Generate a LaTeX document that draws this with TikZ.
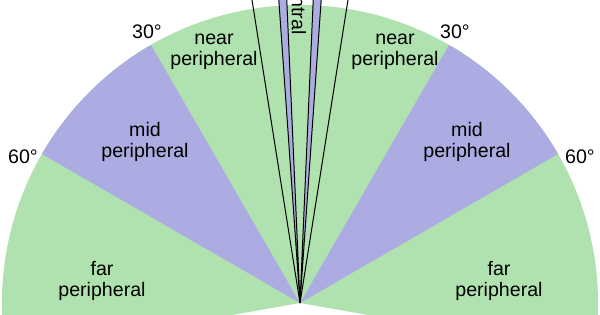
\documentclass[tikz,border=0pt]{standalone}
\usepackage{fontspec}
\setmainfont{Liberation Sans}
\definecolor{vgreen}{RGB}{176,226,176}
\definecolor{vpurple}{RGB}{172,172,226}
\tikzset{
  lbl/.style={font=\fontsize{19.6}{20.5}\selectfont, align=center, inner sep=0pt},
  edge/.style={draw=black, line width=1pt},
}
\begin{document}
\begin{tikzpicture}[x=1pt,y=1pt]
\useasboundingbox (-300,-12) rectangle (300,303);
\clip (-300,-12) rectangle (300,303);
\coordinate (C) at (0,0);
% base green sector
\fill[vgreen] (C) -- (190:298) arc[start angle=190, end angle=-10, radius=298] -- cycle;
% mid peripheral
\fill[vpurple] (C) -- (150:298) arc[start angle=150, end angle=120, radius=298] -- cycle;
\fill[vpurple] (C) -- (60:298) arc[start angle=60, end angle=30, radius=298] -- cycle;
% paracentral strips
\filldraw[vpurple, draw=black, line width=1pt] (C) -- (94:340) -- (92.5:340) -- cycle;
\filldraw[vpurple, draw=black, line width=1pt] (C) -- (87.5:340) -- (86:340) -- cycle;
% macular boundaries
\coordinate (ML) at (99:340);
\coordinate (MR) at (81:340);
\draw[edge] (C) -- (ML);
\draw[edge] (C) -- (MR);
% labels
\node[lbl, rotate=-90] (cen) at (-1,298) {central};
\node[lbl] (a30l) at (-153,271) {30°};
\node[lbl] (a30r) at (155,271) {30°};
\node[lbl] (a60l) at (-277,146) {60°};
\node[lbl] (a60r) at (280,146) {60°};
\node[lbl] (nearl) at (-86,251) {near\\peripheral};
\node[lbl] (nearr) at (95,251) {near\\peripheral};
\node[lbl] (midl) at (-155,161) {mid\\peripheral};
\node[lbl] (midr) at (167,161) {mid\\peripheral};
\node[lbl] (farl) at (-198,22) {far\\peripheral};
\node[lbl] (farr) at (199,22) {far\\peripheral};
\end{tikzpicture}
\end{document}
